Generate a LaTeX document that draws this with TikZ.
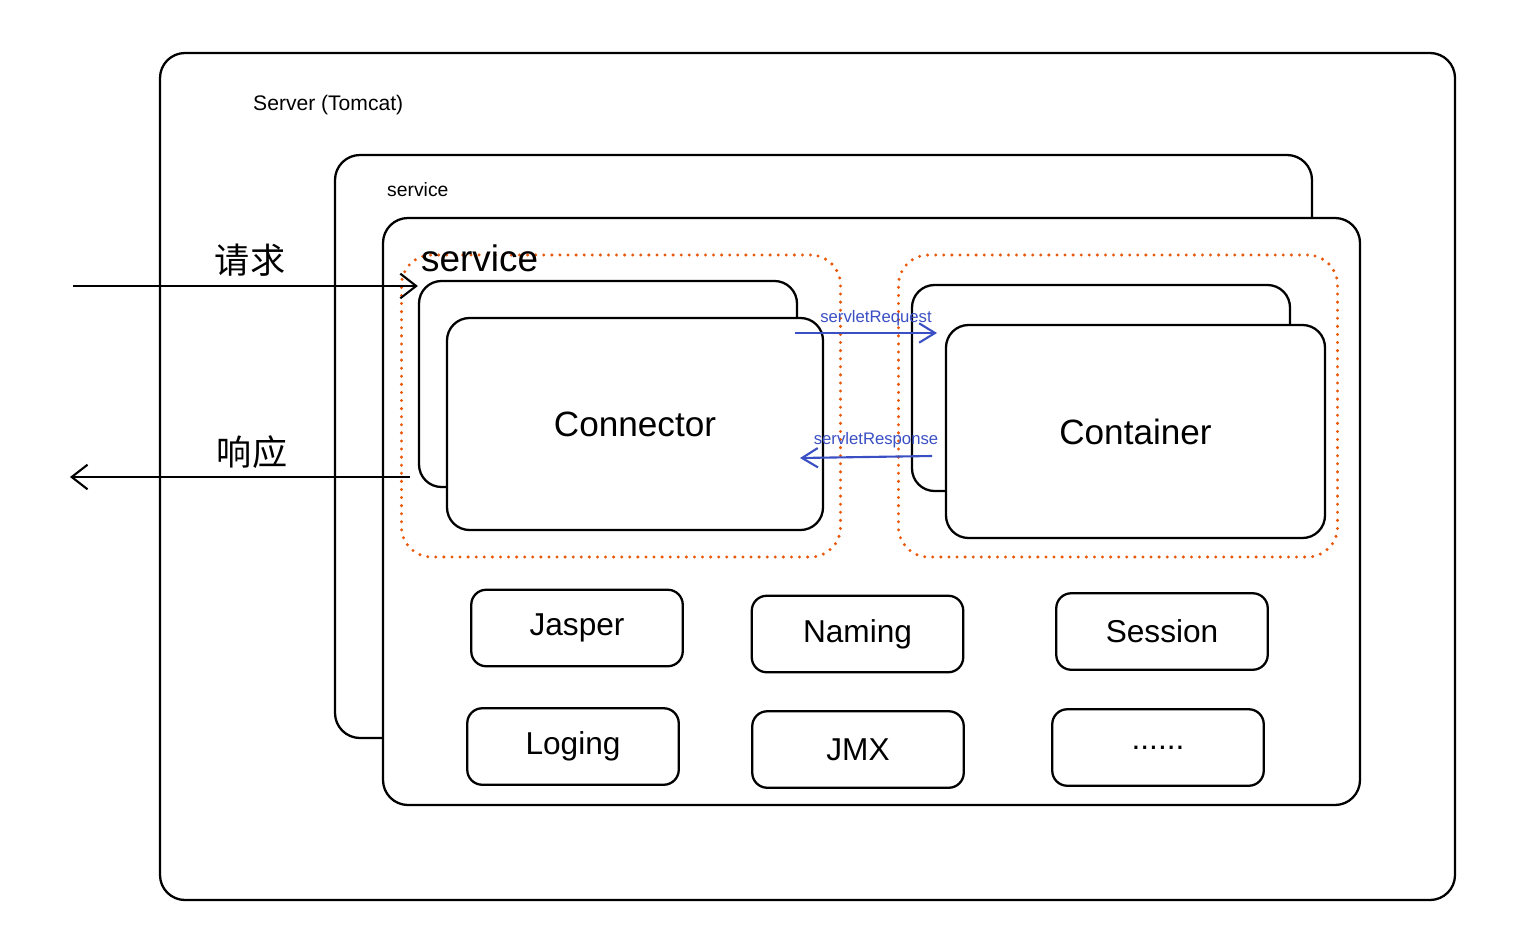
\documentclass[tikz,border=0pt]{standalone}
\usepackage{fontspec}
\setmainfont{Liberation Sans}
\newfontfamily\cjk{Noto Sans CJK SC}
\usepackage{xcolor}
\usetikzlibrary{arrows.meta, positioning}

\definecolor{dotred}{RGB}{232,89,12}
\definecolor{reqblue}{RGB}{59,79,196}

\begin{document}
\begin{tikzpicture}[
    frame/.style={rectangle, draw, line width=1.3pt, rounded corners=0.5cm, fill=white},
    part/.style={rectangle, draw, line width=1.3pt, rounded corners=0.45cm, fill=white},
    module/.style={rectangle, draw, line width=1.3pt, rounded corners=0.3cm, minimum width=4.23cm, minimum height=1.53cm, font=\fontsize{18}{22}\selectfont},
    group/.style={rectangle, draw=dotred, line width=1.9pt, line cap=round, dash pattern=on 0pt off 4.6pt, rounded corners=0.6cm, minimum width=8.78cm, minimum height=6.04cm},
    arrow/.style={-{Straight Barb[length=9pt, width=14pt]}, line width=1.2pt},
    call/.style={-{Straight Barb[length=9pt, width=11pt]}, line width=1.2pt, draw=reqblue},
    calltext/.style={text=reqblue, font=\fontsize{9.5}{11}\selectfont}
]
    \useasboundingbox (0,0) rectangle (30.52,-18.74);

    % Frames
    \node[frame, minimum width=25.9cm, minimum height=16.94cm] (server) at (16.15,-9.53) {};
    \node[frame, minimum width=19.54cm, minimum height=11.66cm] (serviceback) at (16.47,-8.93) {};
    \node[frame, minimum width=19.54cm, minimum height=11.74cm] (service) at (17.43,-10.23) {};
    \node[anchor=west, font=\fontsize{12}{14}\selectfont] (servername) at (4.94,-2.1) {Server (Tomcat)};
    \node[anchor=west, font=\fontsize{11}{13}\selectfont] (servicebackname) at (7.62,-3.8) {service};

    % Groups
    \node[group] (conngroup) at (12.42,-8.12) {};
    \node[group] (contgroup) at (22.36,-8.12) {};
    \node[anchor=west, font=\fontsize{21}{24}\selectfont] (servicename) at (8.3,-5.16) {service};

    % Connector and Container
    \node[part, minimum width=7.56cm, minimum height=4.12cm] (connback) at (12.16,-7.68) {};
    \node[part, minimum width=7.52cm, minimum height=4.24cm, font=\fontsize{20}{24}\selectfont] (conn) at (12.7,-8.48) {Connector};
    \node[part, minimum width=7.56cm, minimum height=4.12cm] (contback) at (22.02,-7.76) {};
    \node[part, minimum width=7.58cm, minimum height=4.26cm, font=\fontsize{20}{24}\selectfont] (cont) at (22.71,-8.63) {Container};

    % Modules
    \node[module] (jasper) at (11.54,-12.56) {Jasper};
    \node[module] (naming) at (17.15,-12.68) {Naming};
    \node[module] (session) at (23.24,-12.63) {Session};
    \node[module] (loging) at (11.46,-14.93) {Loging};
    \node[module] (jmx) at (17.16,-14.99) {JMX};
    \node[module] (more) at (23.16,-14.95) {......};

    % Request and response
    \coordinate (reqin) at (1.46,-5.72);
    \coordinate (respfrom) at (8.2,-9.54);
    \coordinate (respout) at (1.4,-9.54);
    \draw[arrow] (reqin) -- (reqin -| connback.west);
    \draw[arrow] (respfrom) -- (respout);
    \node[font=\cjk\fontsize{20}{24}\selectfont] (reqtext) at (5.0,-5.2) {请求};
    \node[font=\cjk\fontsize{20}{24}\selectfont] (resptext) at (5.04,-9.04) {响应};

    % Servlet calls
    \coordinate (callfrom) at (15.9,-6.66);
    \coordinate (callto) at (18.74,-6.66);
    \coordinate (backfrom) at (18.64,-9.12);
    \coordinate (backto) at (16.0,-9.16);
    \draw[call] (callfrom) -- (callto);
    \draw[call] (backfrom) -- (backto);
    \node[calltext] (calllabel) at (17.52,-6.36) {servletRequest};
    \node[calltext] (backlabel) at (17.52,-8.8) {servletResponse};
\end{tikzpicture}
\end{document}
